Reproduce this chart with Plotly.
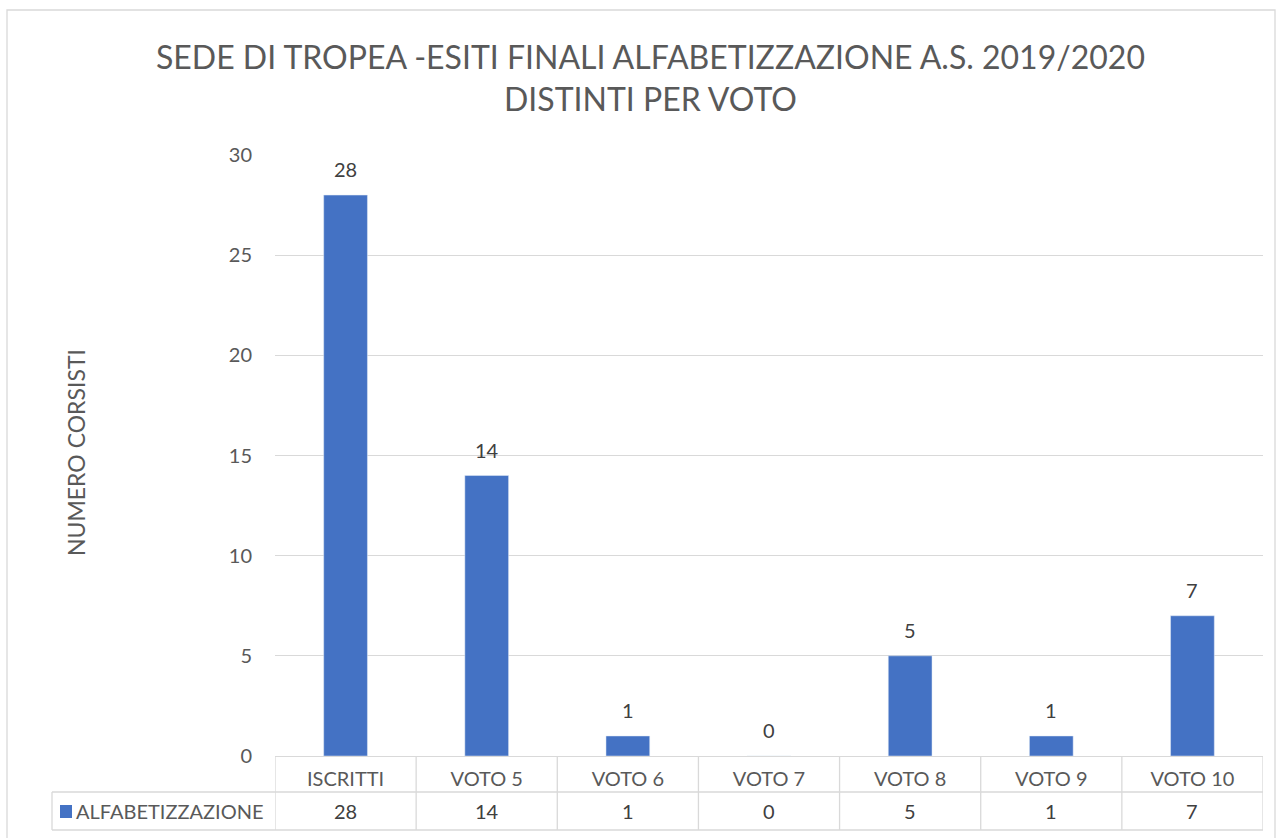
"""Bar chart with Excel-style data table: esiti finali alfabetizzazione."""

import plotly.graph_objects as go

categories = ["ISCRITTI", "VOTO 5", "VOTO 6", "VOTO 7", "VOTO 8", "VOTO 9", "VOTO 10"]
values = [28, 14, 1, 0, 5, 1, 7]
series_name = "ALFABETIZZAZIONE"
y_ticks = [0, 5, 10, 15, 20, 25, 30]

W, H = 1282, 838
# plot area in pixels
L, R, T, B = 275, 1263, 155, 756
PW, PH = R - L, B - T

BLUE = "#4472C4"
GRID = "#d9d9d9"
TXT = "#595959"
FONT = "Lato"
FS = 20


def px_x(p):
    return (p - L) / PW


def px_y(p):
    return (B - p) / PH


fig = go.Figure(go.Bar(
    x=categories,
    y=values,
    marker_color=BLUE,
    width=0.31,
    showlegend=False,
    hoverinfo="x+y",
))

# data labels above bars
for c, v in zip(categories, values):
    fig.add_annotation(x=c, y=v, text=str(v), showarrow=False,
                       yanchor="bottom", yshift=12,
                       font=dict(size=FS, color="#404040", family=FONT))

# data table: values row
row_mid = px_y(811)
for c, v in zip(categories, values):
    fig.add_annotation(x=c, y=row_mid, yref="paper", text=str(v), showarrow=False,
                       yanchor="middle", font=dict(size=FS, color="#404040", family=FONT))

# legend key cell
fig.add_shape(type="rect", xref="paper", yref="paper",
              x0=px_x(60), x1=px_x(72), y0=px_y(818), y1=px_y(805),
              fillcolor=BLUE, line_width=0)
fig.add_annotation(x=px_x(74), y=row_mid, xref="paper", yref="paper",
                   text=series_name, showarrow=False, xanchor="left", yanchor="middle",
                   font=dict(size=FS, color=TXT, family=FONT))

# table grid lines
line = dict(color=GRID, width=1.3)
y_head, y_mid, y_bot = px_y(756), px_y(792), px_y(830)
fig.add_shape(type="line", xref="paper", yref="paper", x0=px_x(52), x1=1,
              y0=y_mid, y1=y_mid, line=line)
fig.add_shape(type="line", xref="paper", yref="paper", x0=px_x(52), x1=1,
              y0=y_bot, y1=y_bot, line=line)
fig.add_shape(type="line", xref="paper", yref="paper", x0=px_x(52), x1=px_x(52),
              y0=y_mid, y1=y_bot, line=line)
for i in range(len(categories) + 1):
    fig.add_shape(type="line", xref="x", yref="paper", x0=i - 0.5, x1=i - 0.5,
                  y0=y_head, y1=y_bot, line=line)

# outer chart border
fig.add_shape(type="rect", xref="paper", yref="paper",
              x0=px_x(7), x1=px_x(1275), y0=px_y(846), y1=px_y(10),
              line=dict(color=GRID, width=1.3), fillcolor="rgba(0,0,0,0)")

# y axis title
fig.add_annotation(x=px_x(60), y=px_y(453), xref="paper", yref="paper",
                   text="NUMERO CORSISTI", textangle=-90, showarrow=False,
                   font=dict(size=23, color=TXT, family=FONT))

# chart title
fig.add_annotation(x=(650 - L) / PW, y=px_y(78), xref="paper", yref="paper",
                   text="SEDE DI TROPEA -ESITI FINALI ALFABETIZZAZIONE A.S. 2019/2020<br>DISTINTI PER VOTO",
                   showarrow=False, yanchor="middle",
                   font=dict(size=32, color=TXT, family=FONT))

fig.update_layout(
    width=W, height=H,
    margin=dict(l=L, r=W - R, t=T, b=H - B, pad=0),
    paper_bgcolor="white",
    plot_bgcolor="white",
    font=dict(family=FONT, color=TXT, size=FS),
)
fig.update_xaxes(
    type="category",
    range=[-0.5, len(categories) - 0.5],
    showgrid=False,
    showline=True, linecolor=GRID, linewidth=1.3,
    ticks="", tickfont=dict(size=FS, color=TXT, family=FONT),
    ticklabelstandoff=5,
)
fig.update_yaxes(
    range=[0, 30],
    tickvals=y_ticks,
    showgrid=True, gridcolor=GRID, gridwidth=1.3,
    zeroline=False, showline=False,
    tickfont=dict(size=FS, color=TXT, family=FONT),
    ticklabelstandoff=22,
)

fig.write_html("out.html", config={"displayModeBar": False},
               post_script="document.body.style.margin='0px';")
